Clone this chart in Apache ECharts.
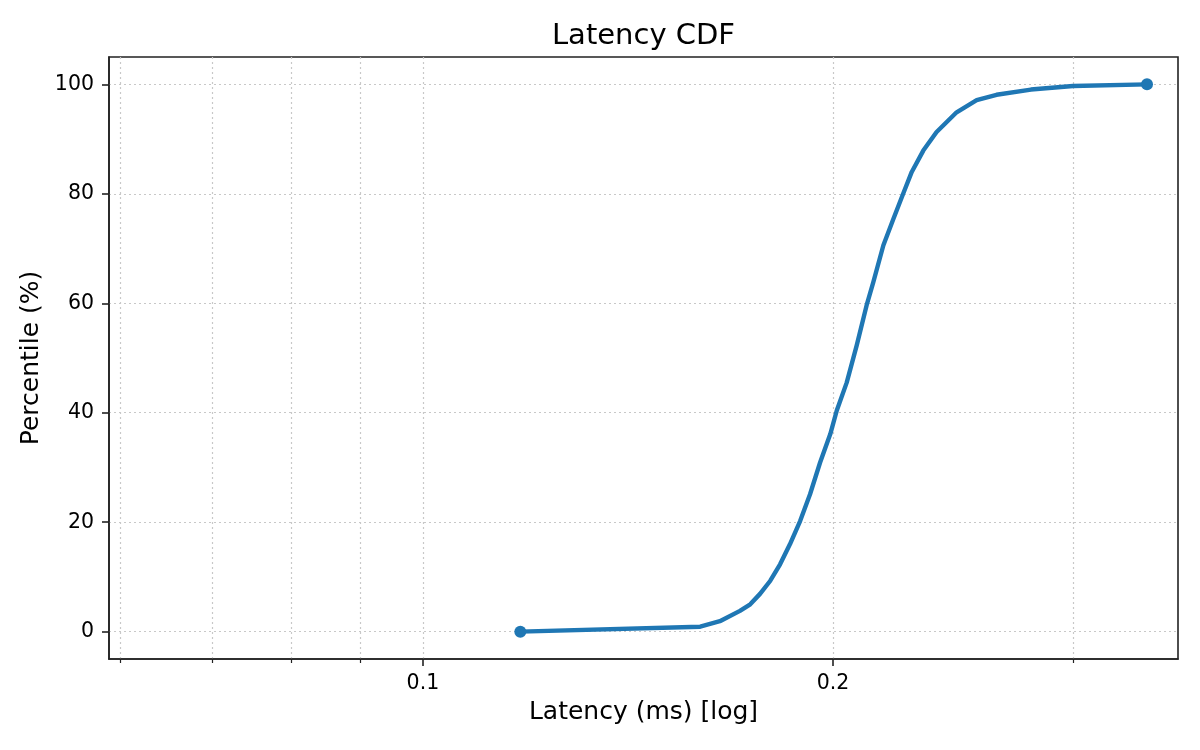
<!DOCTYPE html>
<html>
<head>
<meta charset="utf-8">
<title>Latency CDF</title>
<script src="https://cdn.jsdelivr.net/npm/echarts@6/dist/echarts.min.js"></script>
<style>
  html, body { margin: 0; padding: 0; background: #fff; }
  #chart { width: 1200px; height: 750px; }
</style>
</head>
<body>
<div id="chart"></div>
<script>
// latency (ms), log x axis
var latencyMs = [
  0.1179, 0.1598, 0.1652, 0.1709, 0.1739, 0.1768, 0.1799, 0.1829, 0.1860, 0.1892,
  0.1924, 0.1957, 0.1991, 0.2013, 0.2047, 0.2082, 0.2117, 0.2141, 0.2178, 0.2215,
  0.2252, 0.2285, 0.2330, 0.2383, 0.2465, 0.2550, 0.2637, 0.2795, 0.3001, 0.3401
];
// percentile at each latency
var percentile = [
  0, 0.9, 1.9, 3.8, 5.0, 6.9, 9.3, 12.3, 16.0, 20.2,
  25.1, 30.9, 36.1, 40.4, 45.5, 52.3, 59.6, 63.8, 70.6, 75.4,
  80.0, 84.0, 87.9, 91.3, 94.9, 97.1, 98.1, 99.05, 99.7, 100
];
var xMajorTicks = [0.1, 0.2];
var xMinorTicks = [0.06, 0.07, 0.08, 0.09, 0.3];
var yTicks = [0, 20, 40, 60, 80, 100];

var FONT = 'DejaVu Sans';
var AXIS_COLOR = '#222222';
var GRID_LINE = { show: true, lineStyle: { color: '#c8c8c8', width: 1.2, type: [2, 3] } };

var xMin = 0.05882, xMax = 0.35839;

var curve = [];
for (var i = 0; i < latencyMs.length; i++) {
    curve.push([latencyMs[i], percentile[i]]);
}
var last = latencyMs.length - 1;
var ends = [
    [latencyMs[0], percentile[0]],
    [latencyMs[last], percentile[last]]
];

var option = {
    animation: false,
    backgroundColor: '#ffffff',
    textStyle: { fontFamily: FONT },
    title: {
        text: 'Latency CDF',
        left: 643.5,
        top: 22,
        padding: 0,
        textAlign: 'center',
        textStyle: { fontFamily: FONT, fontSize: 29, fontWeight: 'normal', color: '#000' }
    },
    grid: {
        left: 109, right: 22, top: 57, bottom: 91,
        show: true,
        borderColor: AXIS_COLOR,
        borderWidth: 1.6,
        backgroundColor: 'transparent'
    },
    xAxis: [
        {
            type: 'log',
            logBase: 10,
            min: xMin,
            max: xMax,
            name: 'Latency (ms) [log]',
            nameLocation: 'middle',
            nameGap: 41,
            nameTextStyle: { fontFamily: FONT, fontSize: 25, color: '#000' },
            axisLine: { show: true, onZero: false, lineStyle: { color: AXIS_COLOR, width: 1.6 } },
            axisTick: { show: true, length: 7, customValues: xMajorTicks,
                        lineStyle: { color: AXIS_COLOR, width: 1.6 } },
            axisLabel: { show: true, customValues: xMajorTicks, margin: 14,
                         fontFamily: FONT, fontSize: 20.5, color: '#000',
                         formatter: function (v) { return String(+v.toFixed(3)); } },
            splitLine: GRID_LINE,
            minorTick: { show: false },
            minorSplitLine: { show: false }
        },
        {
            type: 'log',
            logBase: 10,
            min: xMin,
            max: xMax,
            position: 'bottom',
            axisLine: { show: false, onZero: false },
            axisTick: { show: true, length: 4, customValues: xMinorTicks,
                        lineStyle: { color: AXIS_COLOR, width: 1.2 } },
            axisLabel: { show: false },
            splitLine: GRID_LINE
        }
    ],
    yAxis: {
        type: 'value',
        min: -5,
        max: 105,
        name: 'Percentile (%)',
        nameLocation: 'middle',
        nameGap: 63,
        nameTextStyle: { fontFamily: FONT, fontSize: 25, color: '#000' },
        axisLine: { show: true, onZero: false, lineStyle: { color: AXIS_COLOR, width: 1.6 } },
        axisTick: { show: true, length: 7, customValues: yTicks,
                    lineStyle: { color: AXIS_COLOR, width: 1.6 } },
        axisLabel: { show: true, customValues: yTicks, margin: 15,
                     fontFamily: FONT, fontSize: 20.5, color: '#000' },
        splitLine: GRID_LINE
    },
    series: [
        {
            type: 'line',
            xAxisIndex: 0,
            data: curve,
            showSymbol: false,
            symbol: 'none',
            lineStyle: { color: '#1f77b4', width: 4.4, cap: 'round', join: 'round' },
            emphasis: { disabled: true },
            z: 3
        },
        {
            type: 'scatter',
            xAxisIndex: 0,
            data: ends,
            symbol: 'circle',
            symbolSize: 12,
            itemStyle: { color: '#1f77b4', opacity: 1 },
            emphasis: { disabled: true },
            z: 4
        }
    ]
};

var chart = echarts.init(document.getElementById('chart'), null, { renderer: 'canvas' });
chart.setOption(option);
</script>
</body>
</html>
